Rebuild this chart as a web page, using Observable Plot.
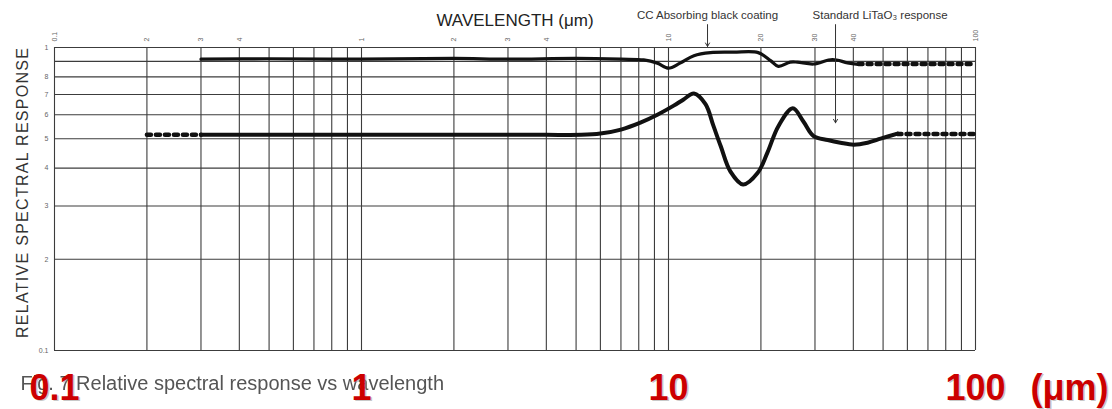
<!DOCTYPE html>
<html>
<head>
<meta charset="utf-8">
<script src="https://cdn.jsdelivr.net/npm/d3@7"></script>
<script src="https://cdn.jsdelivr.net/npm/@observablehq/plot@0.6"></script>
<style>
  html, body { margin: 0; padding: 0; background: #fff; }
  #chart svg { display: block; }
</style>
</head>
<body>
<div id="chart"></div>
<script>
// Log-log grid: wavelength (µm) across, relative spectral response up
const xGrid = [0.1, 0.2, 0.3, 0.4, 0.5, 0.6, 0.7, 0.8, 0.9, 1, 2, 3, 4, 5, 6, 7, 8, 9, 10, 20, 30, 40, 50, 60, 70, 80, 90, 100];
const xTickLabels = ["0.1", "2", "3", "4", "5", "6", "7", "8", "9", "1", "2", "3", "4", "5", "6", "7", "8", "9", "10", "20", "30", "40", "50", "60", "70", "80", "90", "100"];
const yGrid = [0.1, 0.2, 0.3, 0.4, 0.5, 0.6, 0.7, 0.8, 0.9, 1];
const yTickLabels = ["0.1", "2", "3", "4", "5", "6", "7", "8", "9", "1"];

// Decade labels printed under the chart
const decades = [0.1, 1, 10, 100];
const decadeLabels = ["0.1", "1", "10", "100"];

// CC absorbing black coating (measured part, then extrapolated tail)
const coatingWavelength = [0.3, 0.5, 1, 2, 3, 5, 7, 8.3, 9.2, 10, 10.9, 12.1, 13.7, 16.3, 19.6, 21.5, 22.8, 24.9, 26.3, 29.7, 34.2, 38.3, 41.6];
const coatingResponse   = [0.915, 0.918, 0.915, 0.92, 0.915, 0.92, 0.915, 0.91, 0.888, 0.855, 0.888, 0.94, 0.962, 0.965, 0.962, 0.905, 0.866, 0.895, 0.895, 0.882, 0.913, 0.89, 0.88];
const coatingTailWavelength = [41.6, 100];
const coatingTailResponse   = [0.882, 0.882];

// Standard LiTaO3 detector response (extrapolated lead, measured part, extrapolated tail)
const litaoLeadWavelength = [0.2, 0.3];
const litaoLeadResponse   = [0.515, 0.515];
const litaoWavelength = [0.3, 0.6, 1, 2, 3, 4, 5.2, 6, 7, 8.1, 9.2, 10.4, 11.2, 12.1, 13.2, 14, 14.8, 15.9, 17.5, 19.5, 21, 22.8, 25.4, 27.5, 29.7, 33, 36.3, 40.1, 44.5, 49.1, 55.7];
const litaoResponse   = [0.515, 0.515, 0.515, 0.515, 0.515, 0.515, 0.515, 0.52, 0.536, 0.565, 0.6, 0.643, 0.674, 0.705, 0.65, 0.552, 0.472, 0.39, 0.353, 0.385, 0.45, 0.55, 0.63, 0.57, 0.51, 0.495, 0.485, 0.478, 0.485, 0.5, 0.52];
const litaoTailWavelength = [55.7, 100];
const litaoTailResponse   = [0.518, 0.518];

// Callouts: text, wavelength the arrow marks, response where the arrow ends
const noteLabels = ["CC Absorbing black coating", "Standard LiTaO\u2083 response"];
const noteWavelengths = [13.4, 35];
const noteTargets = [1.0, 0.56];
const noteStart = 1.19;

const yTitle = "RELATIVE SPECTRAL RESPONSE";
const caption = "Fig. 7 Relative spectral response vs wavelength";

const pts = (xs, ys) => xs.map((w, i) => ({wavelength: w, response: ys[i]}));
const coating = pts(coatingWavelength, coatingResponse);
const coatingTail = pts(coatingTailWavelength, coatingTailResponse);
const litaoLead = pts(litaoLeadWavelength, litaoLeadResponse);
const litao = pts(litaoWavelength, litaoResponse);
const litaoTail = pts(litaoTailWavelength, litaoTailResponse);
const notes = noteLabels.map((t, i) => ({label: t, wavelength: noteWavelengths[i], target: noteTargets[i], start: noteStart}));

const xLabel = new Map(xGrid.map((v, i) => [v, xTickLabels[i]]));
const yLabel = new Map(yGrid.map((v, i) => [v, yTickLabels[i]]));

const font = "'Liberation Sans', Arial, Helvetica, sans-serif";
const gridColor = "#3c3c3c";
const ink = "#111";

const chart = Plot.plot({
  width: 1112,
  height: 409,
  marginLeft: 54,
  marginRight: 137,
  marginTop: 47,
  marginBottom: 59,
  x: {type: "log", domain: [0.1, 100]},
  y: {type: "log", domain: [0.1, 1]},
  style: {fontFamily: font, background: "#fff", overflow: "visible"},
  marks: [
    // grid
    Plot.ruleX(xGrid, {stroke: gridColor, strokeWidth: 1.1}),
    Plot.ruleY(yGrid, {stroke: gridColor, strokeWidth: 1.1}),

    // small tick numerals
    Plot.axisX(xGrid, {anchor: "top", tickSize: 0, tickPadding: 6, tickRotate: -90, tickFormat: (d) => xLabel.get(d), fontSize: 7, fill: "#666", label: null}),
    Plot.axisY(yGrid, {anchor: "left", tickSize: 0, tickPadding: 6, tickFormat: (d) => yLabel.get(d), fontSize: 7, fill: "#666", label: null}),

    // axis titles
    Plot.text(["WAVELENGTH (\u03bcm)"], {frameAnchor: "top", dy: -22, lineAnchor: "bottom", fontSize: 17, fill: "#222"}),
    Plot.text([yTitle], {frameAnchor: "left", textAnchor: "middle", dx: -32, dy: -6, rotate: -90, fontSize: 16, fill: "#333"}),

    // response curves
    Plot.line(litaoLead, {x: "wavelength", y: "response", stroke: ink, strokeWidth: 4.5, strokeDasharray: "4,5"}),
    Plot.line(litao, {x: "wavelength", y: "response", curve: "catmull-rom", stroke: ink, strokeWidth: 4}),
    Plot.line(litaoTail, {x: "wavelength", y: "response", stroke: ink, strokeWidth: 4.5, strokeDasharray: "4,5"}),
    Plot.line(coating, {x: "wavelength", y: "response", curve: "catmull-rom", stroke: ink, strokeWidth: 3.2}),
    Plot.line(coatingTail, {x: "wavelength", y: "response", stroke: ink, strokeWidth: 4.5, strokeDasharray: "4,5"}),

    // callouts
    Plot.arrow(notes, {x: "wavelength", y1: "start", y2: "target", stroke: "#333", strokeWidth: 1, headLength: 6, insetEnd: 1}),
    Plot.text(notes.slice(0, 1), {x: "wavelength", text: "label", frameAnchor: "top", dy: -29, lineAnchor: "bottom", fontSize: 11.5, fill: "#333"}),
    Plot.text(notes.slice(1), {x: "wavelength", text: "label", frameAnchor: "top", dy: -29, dx: -23, textAnchor: "start", lineAnchor: "bottom", fontSize: 11.5, fill: "#333"}),

    // caption
    Plot.text([caption], {frameAnchor: "bottom-left", dx: -34, dy: 39, textAnchor: "start", lineAnchor: "bottom", fontSize: 20, fill: "#555"}),

    // red decade labels with a soft shadow
    Plot.text(decades, {x: (d) => d, text: decadeLabels, frameAnchor: "bottom", dx: 1.5, dy: 50.5, lineAnchor: "bottom", fontSize: 36, fontWeight: "bold", fill: "#999", fillOpacity: 0.55}),
    Plot.text(["(\u03bcm)"], {x: [100], frameAnchor: "bottom", dx: 56.5, dy: 50.5, textAnchor: "start", lineAnchor: "bottom", fontSize: 36, fontWeight: "bold", fill: "#999", fillOpacity: 0.55}),
    Plot.text(decades, {x: (d) => d, text: decadeLabels, frameAnchor: "bottom", dy: 49, lineAnchor: "bottom", fontSize: 36, fontWeight: "bold", fill: "#cc0000"}),
    Plot.text(["(\u03bcm)"], {x: [100], frameAnchor: "bottom", dx: 55, dy: 49, textAnchor: "start", lineAnchor: "bottom", fontSize: 36, fontWeight: "bold", fill: "#cc0000"})
  ]
});

document.getElementById("chart").appendChild(chart);

// stretch the vertical title along the frame height and soften the printed caption
const svg = d3.select(chart);
const byText = (s) => svg.selectAll("text").filter(function () { return this.textContent === s; });
byText(yTitle).attr("textLength", 290).attr("lengthAdjust", "spacing");
const defs = svg.insert("defs", ":first-child");
defs.append("filter").attr("id", "soft").append("feGaussianBlur").attr("stdDeviation", 0.6);
byText(caption).attr("filter", "url(#soft)");
</script>
</body>
</html>
